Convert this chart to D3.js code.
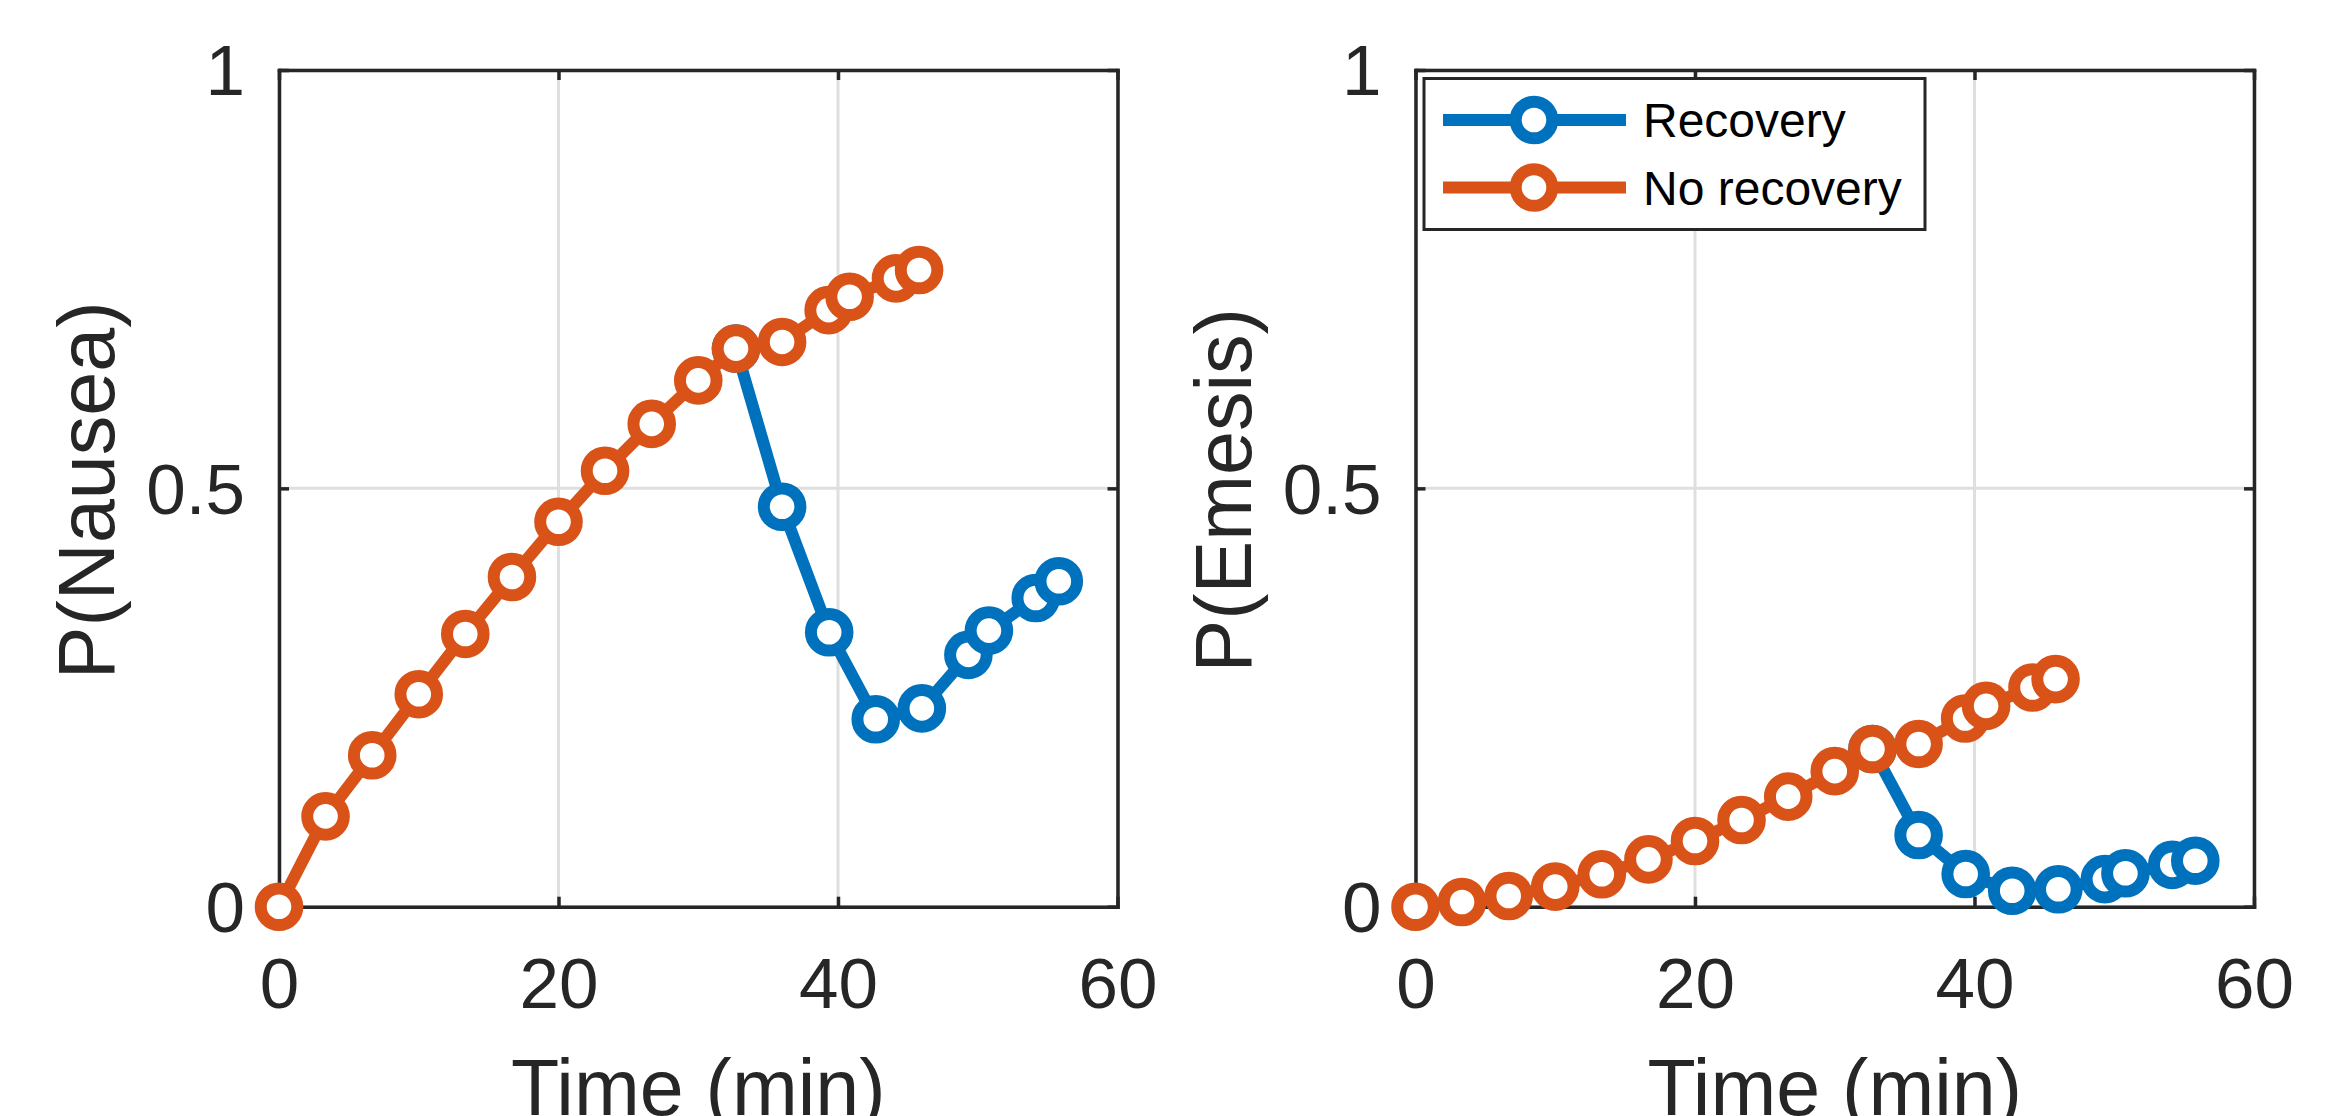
<!DOCTYPE html>
<html>
<head>
<meta charset="utf-8">
<script src="https://cdn.jsdelivr.net/npm/d3@7"></script>
<style>
  html, body { margin: 0; padding: 0; background: #fff; }
  svg { display: block; font-family: "Liberation Sans", Arial, Helvetica, sans-serif; }
</style>
</head>
<body>
<svg id="chart" width="2341" height="1116"></svg>
<script>
// ---- data ----
const timeNoRecovery = [0, 3.33, 6.67, 10, 13.33, 16.67, 20, 23.33, 26.67, 30, 32.7, 36.0, 39.33, 40.83, 44.15, 45.8];
const timeRecovery = [32.7, 36.0, 39.37, 42.7, 46.0, 49.33, 50.8, 54.15, 55.8];
const nauseaNoRecovery = [0, 0.108, 0.181, 0.254, 0.326, 0.394, 0.460, 0.521, 0.577, 0.629, 0.667, 0.675, 0.713, 0.729, 0.751, 0.761];
const nauseaRecovery = [0.667, 0.478, 0.328, 0.224, 0.237, 0.301, 0.330, 0.369, 0.389];
const emesisNoRecovery = [0, 0.0056, 0.0128, 0.024, 0.0387, 0.0566, 0.0785, 0.1036, 0.1315, 0.162, 0.1885, 0.1945, 0.225, 0.240, 0.262, 0.272];
const emesisRecovery = [0.1885, 0.0857, 0.039, 0.019, 0.0208, 0.033, 0.040, 0.050, 0.055];
const xTicks = [0, 20, 40, 60];
const yTicks = [0, 0.5, 1];
const yTickLabels = ["0", "0.5", "1"];
const seriesNames = ["Recovery", "No recovery"];
const seriesColors = ["#0072BD", "#D95319"];

(function () {
const svg = d3.select("#chart");
const AX = "#262626";
const plotTop = 70, plotBottom = 906.7, axW = 838.5;
const tickLen = 10;

function panel(left, yLabel, recVals, noRecVals, withLegend) {
  const x = d3.scaleLinear().domain([0, 60]).range([left, left + axW]);
  const y = d3.scaleLinear().domain([0, 1]).range([plotBottom, plotTop]);
  const g = svg.append("g");

  // grid
  g.append("g").selectAll("line").data(xTicks).join("line")
    .attr("x1", d => x(d)).attr("x2", d => x(d)).attr("y1", plotTop).attr("y2", plotBottom)
    .attr("stroke", "#dfdfdf").attr("stroke-width", 3);
  g.append("g").selectAll("line").data(yTicks).join("line")
    .attr("y1", d => y(d)).attr("y2", d => y(d)).attr("x1", left).attr("x2", left + axW)
    .attr("stroke", "#dfdfdf").attr("stroke-width", 3);

  // axes
  const fmtY = d => yTickLabels[yTicks.indexOf(d)];
  const axB = g.append("g").attr("transform", `translate(0,${plotBottom})`)
    .call(d3.axisBottom(x).tickValues(xTicks).tickSizeInner(-tickLen).tickSizeOuter(0).tickPadding(51).tickFormat(d3.format("d")));
  const axT = g.append("g").attr("transform", `translate(0,${plotTop})`)
    .call(d3.axisTop(x).tickValues(xTicks).tickSizeInner(-tickLen).tickSizeOuter(0).tickFormat(""));
  const axL = g.append("g").attr("transform", `translate(${left},0)`)
    .call(d3.axisLeft(y).tickValues(yTicks).tickSizeInner(-tickLen).tickSizeOuter(0).tickPadding(34).tickFormat(fmtY));
  const axR = g.append("g").attr("transform", `translate(${left + axW},0)`)
    .call(d3.axisRight(y).tickValues(yTicks).tickSizeInner(-tickLen).tickSizeOuter(0).tickFormat(""));
  [axB, axT, axL, axR].forEach(a => {
    a.select(".domain").attr("stroke", AX).attr("stroke-width", 3.5).attr("stroke-linecap", "square");
    a.selectAll(".tick line").attr("stroke", AX).attr("stroke-width", 3.5);
    a.selectAll(".tick text").attr("fill", AX).attr("font-size", 71)
      .attr("font-family", "'Liberation Sans', Arial, sans-serif");
  });
  axL.selectAll(".tick text").attr("dy", "0.35em");

  // labels
  g.append("text").attr("x", left + axW / 2).attr("y", 1115).attr("text-anchor", "middle")
    .attr("font-size", 79).attr("fill", AX).text("Time (min)");
  g.append("text").attr("transform", `translate(${left - 165},${(plotTop + plotBottom) / 2 + 2}) rotate(-90)`)
    .attr("text-anchor", "middle").attr("font-size", 79).attr("fill", AX).text(yLabel);

  // data
  const line = d3.line().x(d => x(d[0])).y(d => y(d[1]));
  const sets = [
    d3.zip(timeRecovery, recVals),
    d3.zip(timeNoRecovery, noRecVals)
  ];
  sets.forEach((pts, i) => {
    const s = g.append("g");
    s.append("path").datum(pts).attr("d", line).attr("fill", "none")
      .attr("stroke", seriesColors[i]).attr("stroke-width", 12).attr("stroke-linejoin", "round");
    s.selectAll("circle").data(pts).join("circle")
      .attr("cx", d => x(d[0])).attr("cy", d => y(d[1])).attr("r", 18.3)
      .attr("fill", "#fff").attr("stroke", seriesColors[i]).attr("stroke-width", 12);
  });

  if (withLegend) {
    const lg = g.append("g");
    lg.append("rect").attr("x", 1424).attr("y", 78.5).attr("width", 501).attr("height", 151)
      .attr("fill", "#fff").attr("stroke", AX).attr("stroke-width", 3);
    const rows = [120, 187.5];
    seriesNames.forEach((name, i) => {
      lg.append("line").attr("x1", 1443).attr("x2", 1626).attr("y1", rows[i]).attr("y2", rows[i])
        .attr("stroke", seriesColors[i]).attr("stroke-width", 12);
      lg.append("circle").attr("cx", 1534).attr("cy", rows[i]).attr("r", 18.3)
        .attr("fill", "#fff").attr("stroke", seriesColors[i]).attr("stroke-width", 12);
      lg.append("text").attr("x", 1643).attr("y", rows[i]).attr("dy", "0.36em")
        .attr("font-size", 48).attr("fill", "#000").text(name);
    });
  }
}

panel(279, "P(Nausea)", nauseaRecovery, nauseaNoRecovery, false);
panel(1415.5, "P(Emesis)", emesisRecovery, emesisNoRecovery, true);
})();
</script>
</body>
</html>
